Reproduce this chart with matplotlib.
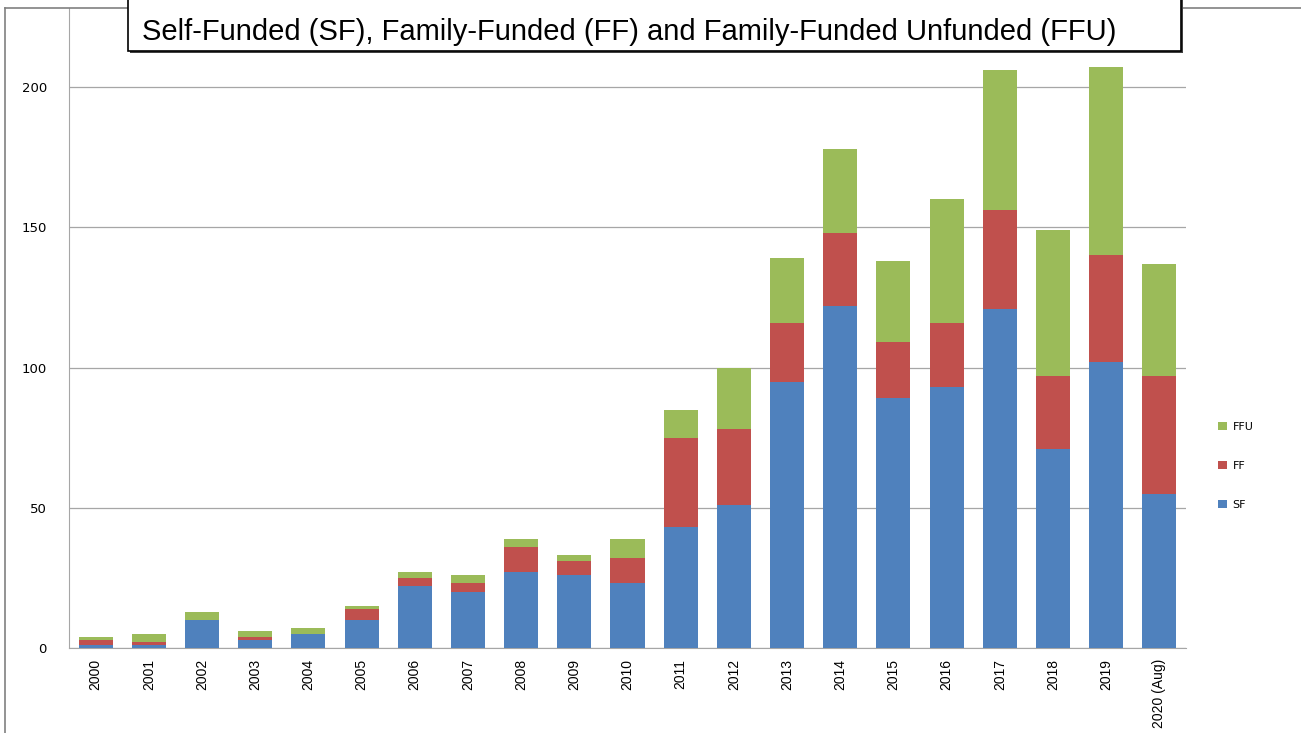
import matplotlib.pyplot as plt
from matplotlib.patches import Rectangle
from matplotlib.lines import Line2D

# data
years = ['2000', '2001', '2002', '2003', '2004', '2005', '2006', '2007', '2008', '2009',
         '2010', '2011', '2012', '2013', '2014', '2015', '2016', '2017', '2018', '2019',
         '2020 (Aug)']
sf = [1, 1, 10, 3, 5, 10, 22, 20, 27, 26, 23, 43, 51, 95, 122, 89, 93, 121, 71, 102, 55]
ff = [2, 1, 0, 1, 0, 4, 3, 3, 9, 5, 9, 32, 27, 21, 26, 20, 23, 35, 26, 38, 42]
ffu = [1, 3, 3, 2, 2, 1, 2, 3, 3, 2, 7, 10, 22, 23, 30, 29, 44, 50, 52, 67, 40]

blue = '#4F81BD'
red = '#C0504D'
green = '#9BBB59'

fig = plt.figure(figsize=(13.01, 7.33), dpi=100)
W, H = 1301.0, 733.0

# plot area in pixels: left 69, right 1186, y=0 at 648, top at 8
ax = fig.add_axes([69 / W, 85 / H, (1186 - 69) / W, (648 - 8) / H])

x = range(len(years))
bottom2 = [a + b for a, b in zip(sf, ff)]
b1 = ax.bar(x, sf, width=0.64, color=blue, label='SF', zorder=3)
b2 = ax.bar(x, ff, width=0.64, bottom=sf, color=red, label='FF', zorder=3)
b3 = ax.bar(x, ffu, width=0.64, bottom=bottom2, color=green, label='FFU', zorder=3)

ax.set_xlim(-0.5, len(years) - 0.5)
ax.set_ylim(0, 228.2)
ax.set_yticks([0, 50, 100, 150, 200])
ax.yaxis.grid(True, color='#a6a6a6', linewidth=0.9, zorder=0)
ax.set_xticks(list(x))
ax.set_xticklabels(years, rotation=90, fontsize=10, family='Liberation Sans')
for lab in ax.get_yticklabels():
    lab.set_fontsize(9.5)
ax.tick_params(axis='both', length=0, pad=8)
ax.tick_params(axis='y', pad=16)
for s in ['top', 'right']:
    ax.spines[s].set_visible(False)
ax.spines['left'].set_color('#a6a6a6')
ax.spines['bottom'].set_color('#a6a6a6')

# legend on the right, top entry is FFU
ax.legend([b3, b2, b1], ['FFU', 'FF', 'SF'], frameon=False, fontsize=8,
          handlelength=0.8, handleheight=0.8, handletextpad=0.5, labelspacing=2.6,
          loc='center left', bbox_to_anchor=(1208 / W, 1 - 466 / H), bbox_transform=fig.transFigure)

# outer frame lines
fig.add_artist(Line2D([4.5 / W, 4.5 / W], [0, 1 - 8 / H], color='#808080', linewidth=1.2))
fig.add_artist(Line2D([4.5 / W, 1], [1 - 8 / H, 1 - 8 / H], color='#808080', linewidth=1.2))

# title box, cut at the top of the image
fig.add_artist(Rectangle((130 / W, 1 - 53 / H), 1053 / W, 60 / H, transform=fig.transFigure,
                         facecolor='#404040', edgecolor='none', zorder=4))
fig.add_artist(Rectangle((128 / W, 1 - 51 / H), 1053 / W, 60 / H, transform=fig.transFigure,
                         facecolor='white', edgecolor='black', linewidth=1.2, zorder=5))
fig.text(142 / W, 1 - 40 / H, 'Self-Funded (SF), Family-Funded (FF) and Family-Funded Unfunded (FFU)',
         fontsize=21, family='Liberation Sans', ha='left', va='baseline', zorder=6)

plt.savefig('out.png', dpi=100)
